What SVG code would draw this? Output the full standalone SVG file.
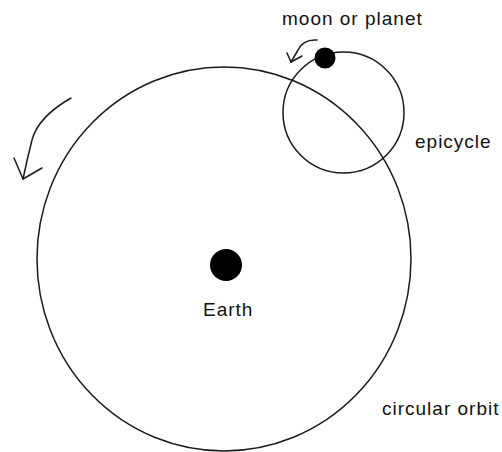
<svg xmlns="http://www.w3.org/2000/svg" width="502" height="452" viewBox="0 0 502 452">
<style>
.ln{fill:none;stroke:#1a1a1a;stroke-width:1.5;stroke-linecap:round;stroke-linejoin:round}
.dot{fill:#000}
.lbl{font-family:"Liberation Sans",Arial,sans-serif;font-size:19px;letter-spacing:1px;fill:#111}
</style>
<rect width="502" height="452" fill="#fff"/>
<g id="orbit">
<ellipse class="ln" cx="224" cy="259" rx="187" ry="192"/>
<text class="lbl" x="382" y="415">circular orbit</text>
</g>
<g id="epicycle">
<circle class="ln" cx="343.5" cy="112.5" r="60.5"/>
<text class="lbl" x="415" y="148">epicycle</text>
</g>
<g id="earth">
<circle class="dot" cx="226" cy="265" r="16"/>
<text class="lbl" x="203" y="316">Earth</text>
</g>
<g id="planet">
<circle class="dot" cx="325" cy="58" r="10.5"/>
<text class="lbl" x="282" y="25">moon or planet</text>
</g>
<g id="connectors">
<path class="ln" d="M317,40 Q303,39 298,50 L291,62"/>
<path class="ln" d="M287,53 L291,62 L302,56"/>
<path class="ln" d="M71,98 C50,110 36,125 32,140 Q27,160 23,179"/>
<path class="ln" d="M14,158 L23,179 L42,168"/>
</g>
</svg>
